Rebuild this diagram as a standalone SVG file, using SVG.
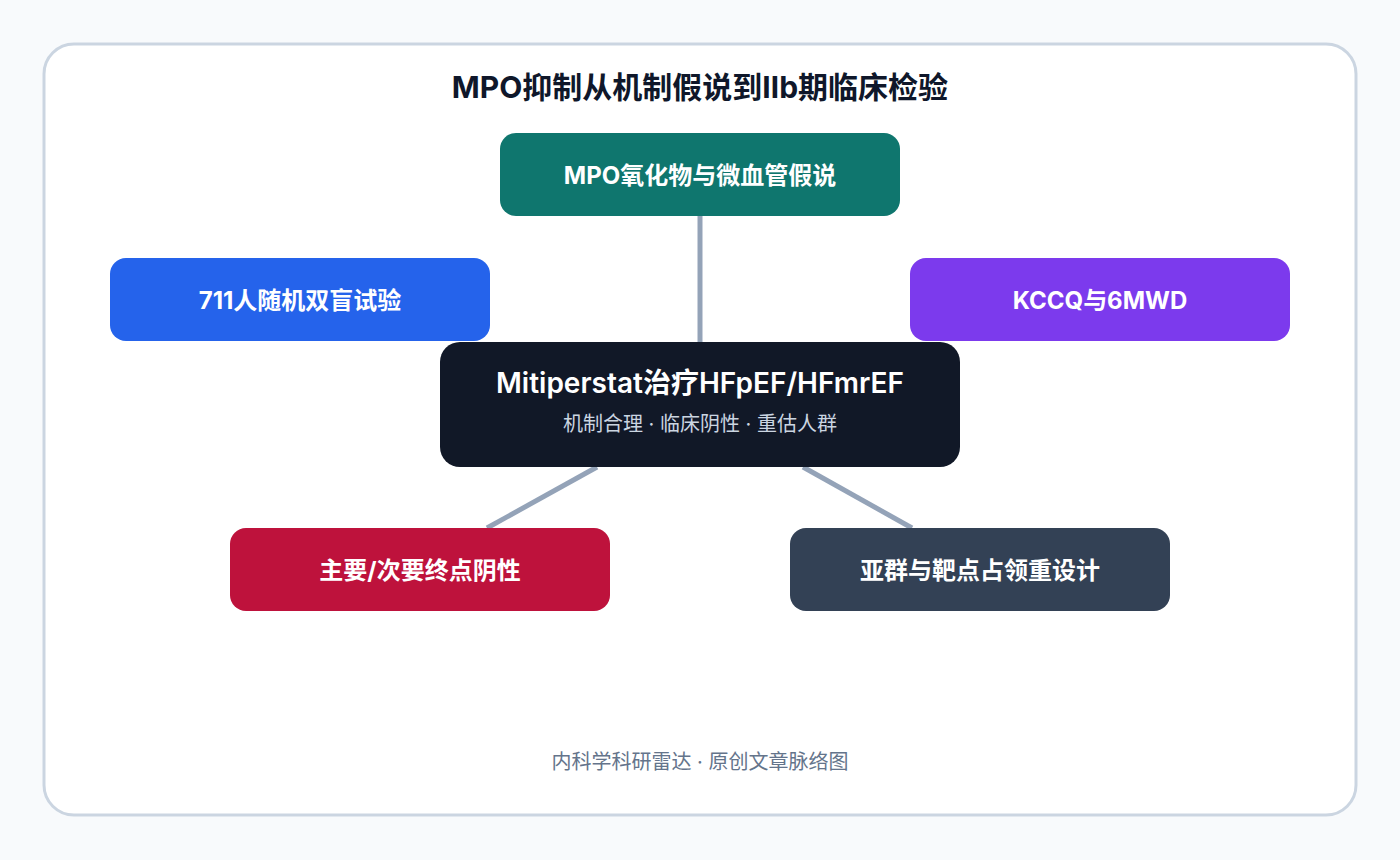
<svg xmlns="http://www.w3.org/2000/svg" width="1400" height="860" viewBox="0 0 1400 860">
<style>
text{font-family:"Inter","Noto Sans CJK SC",sans-serif;text-anchor:middle;}
.n{fill:#fff;font-size:24px;font-weight:700;}
.c{stroke:#94a3b8;stroke-width:5;fill:none;}
</style>
<rect width="1400" height="860" fill="#f8fafc"/>
<rect x="44" y="44" width="1312" height="771" rx="30" fill="#fff" stroke="#cbd5e1" stroke-width="3"/>
<text x="700" y="98" font-size="30" font-weight="700" fill="#0f172a">MPO抑制从机制假说到Ⅱb期临床检验</text>
<g id="connectors">
<line class="c" x1="700" y1="216" x2="700" y2="342"/>
<line class="c" x1="597" y1="467" x2="487" y2="528"/>
<line class="c" x1="803" y1="467" x2="912" y2="528"/>
</g>
<g id="top"><rect x="500" y="133" width="400" height="83" rx="16" fill="#0f766e"/><text class="n" x="700" y="184">MPO氧化物与微血管假说</text></g>
<g id="left"><rect x="110" y="258" width="380" height="83" rx="16" fill="#2563eb"/><text class="n" x="300" y="309">711人随机双盲试验</text></g>
<g id="right"><rect x="910" y="258" width="380" height="83" rx="16" fill="#7c3aed"/><text class="n" x="1100" y="309">KCCQ与6MWD</text></g>
<g id="center"><rect x="440" y="342" width="520" height="125" rx="20" fill="#111827"/><text x="700" y="393" font-size="28" font-weight="600" fill="#fff">Mitiperstat治疗HFpEF/HFmrEF</text><text x="700" y="431" font-size="20" fill="#cbd5e1">机制合理 · 临床阴性 · 重估人群</text></g>
<g id="bl"><rect x="230" y="528" width="380" height="83" rx="16" fill="#be123c"/><text class="n" x="420" y="579">主要/次要终点阴性</text></g>
<g id="br"><rect x="790" y="528" width="380" height="83" rx="16" fill="#334155"/><text class="n" x="980" y="579">亚群与靶点占领重设计</text></g>
<text x="700" y="769" font-size="20" fill="#64748b">内科学科研雷达 · 原创文章脉络图</text>
</svg>
